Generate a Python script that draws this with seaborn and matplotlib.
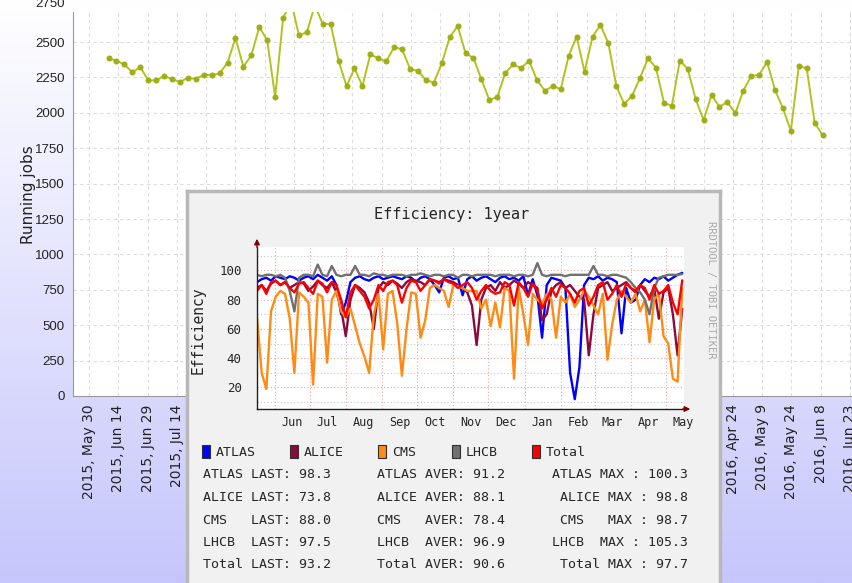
import numpy as np
import pandas as pd
import matplotlib
matplotlib.use('Agg')
from matplotlib import pyplot as plt
from matplotlib.patches import Rectangle, FancyArrowPatch
from matplotlib.colors import LinearSegmentedColormap
from matplotlib.transforms import blended_transform_factory
import matplotlib.dates as mdates
import seaborn as sns

# running jobs, one sample about every 4 days (2015-06-09 .. 2016-06-09)
job_start = '2015-06-09'
job_end = '2016-06-09'
running_jobs = [2385, 2368, 2342, 2286, 2323, 2229, 2229, 2260, 2239, 2217,
                2248, 2239, 2269, 2265, 2279, 2354, 2528, 2326, 2406, 2606,
                2512, 2112, 2667, 2790, 2547, 2570, 2760, 2627, 2627, 2366,
                2189, 2314, 2189, 2413, 2385, 2364, 2463, 2449, 2311, 2295,
                2232, 2213, 2349, 2533, 2613, 2420, 2387, 2236, 2090, 2112,
                2279, 2342, 2316, 2368, 2232, 2156, 2189, 2168, 2403, 2538,
                2288, 2538, 2620, 2491, 2189, 2062, 2121, 2248, 2385, 2318,
                2071, 2048, 2368, 2311, 2095, 1949, 2126, 2043, 2076, 1996,
                2156, 2260, 2267, 2361, 2161, 2032, 1874, 2330, 2314, 1930,
                1843]
date_ticks_start = '2015-05-30'
date_ticks_end = '2016-06-23'
job_ticks = list(range(0, 2751, 250))

# efficiency inset, one sample every 4 days from 2015-05-17
eff_start = '2015-05-17'
experiments = ['ATLAS', 'ALICE', 'CMS', 'LHCB', 'Total']
atlas = [92, 94, 95, 93, 96, 95, 94, 96, 95, 93,
         95, 96, 94, 97, 95, 93, 96, 90, 70, 78,
         92, 95, 96, 94, 93, 95, 96, 94, 95, 96,
         95, 94, 96, 95, 92, 95, 96, 94, 90, 85,
         95, 96, 94, 95, 83, 94, 96, 93, 95, 96,
         94, 92, 95, 96, 94, 95, 93, 96, 83, 94,
         83, 54, 90, 95, 94, 93, 88, 30, 12, 34,
         90, 95, 94, 96, 93, 95, 94, 92, 57, 88,
         78, 80, 90, 94, 92, 95, 94, 96, 93, 95,
         97, 98.3]
alice = [88, 90, 86, 91, 93, 90, 92, 88, 90, 92,
         91, 86, 89, 93, 90, 88, 92, 85, 74, 55,
         80, 90, 88, 85, 78, 60, 88, 92, 90, 93,
         91, 88, 92, 94, 93, 92, 90, 94, 93, 92,
         94, 93, 92, 90, 88, 85, 76, 49, 80, 88,
         90, 86, 92, 88, 90, 93, 91, 88, 92, 90,
         88, 66, 70, 86, 90, 92, 88, 90, 86, 82,
         80, 42, 70, 88, 90, 92, 86, 88, 90, 92,
         88, 85, 90, 86, 82, 88, 67, 85, 88, 70,
         42, 73.8]
cms = [68, 30, 19, 72, 82, 86, 84, 67, 30, 85,
       82, 78, 22, 84, 82, 37, 80, 86, 72, 68,
       74, 62, 50, 41, 30, 70, 84, 46, 84, 86,
       64, 28, 60, 85, 84, 54, 66, 88, 90, 88,
       86, 75, 90, 89, 88, 86, 86, 86, 74, 80,
       62, 78, 61, 88, 86, 26, 88, 70, 49, 84,
       80, 77, 84, 80, 54, 82, 78, 84, 75, 80,
       86, 82, 76, 70, 84, 39, 63, 80, 86, 82,
       78, 84, 72, 80, 51, 80, 84, 55, 50, 26,
       24, 88]
lhcb = [97, 96, 97, 97, 96, 97, 95, 86, 72, 95,
        97, 97, 96, 104, 97, 96, 103, 97, 96, 97,
        97, 103, 97, 97, 96, 98, 97, 97, 96, 97,
        97, 97, 96, 97, 97, 98, 97, 96, 97, 97,
        96, 97, 97, 95, 97, 97, 96, 97, 97, 97,
        97, 96, 97, 97, 97, 96, 97, 97, 96, 97,
        105, 97, 96, 97, 97, 97, 96, 97, 97, 97,
        97, 97, 103, 97, 97, 96, 97, 97, 96, 95,
        92, 88, 85, 80, 70, 88, 95, 96, 97, 97,
        97, 97.5]
total = [86, 90, 84, 92, 93, 90, 92, 88, 85, 91,
         92, 88, 84, 93, 91, 85, 92, 90, 80, 68,
         85, 90, 86, 82, 74, 80, 90, 86, 92, 93,
         90, 78, 88, 93, 92, 86, 90, 94, 93, 91,
         94, 92, 91, 88, 90, 92, 88, 80, 86, 90,
         86, 84, 85, 92, 90, 76, 92, 88, 82, 91,
         86, 74, 80, 88, 82, 90, 88, 84, 78, 86,
         88, 76, 82, 90, 92, 80, 84, 90, 82, 91,
         88, 86, 90, 88, 80, 90, 84, 86, 90, 78,
         70, 93.2]
exp_colors = ['#0000ff', '#8b0a3c', '#ff8a14', '#707070', '#ff0000']
month_names = ['Jun', 'Jul', 'Aug', 'Sep', 'Oct', 'Nov', 'Dec',
               'Jan', 'Feb', 'Mar', 'Apr', 'May']

stats_last = ['ATLAS LAST: 98.3', 'ALICE LAST: 73.8', 'CMS   LAST: 88.0',
              'LHCB  LAST: 97.5', 'Total LAST: 93.2']
stats_aver = ['ATLAS AVER: 91.2', 'ALICE AVER: 88.1', 'CMS   AVER: 78.4',
              'LHCB  AVER: 96.9', 'Total AVER: 90.6']
stats_max = ['ATLAS MAX : 100.3', 'ALICE MAX : 98.8', 'CMS   MAX : 98.7',
             'LHCB  MAX : 105.3', 'Total MAX : 97.7']

sns.set_style('white')
plt.rcParams['font.family'] = ['DejaVu Sans']
mono = 'DejaVu Sans Mono'
tickfont = 'Liberation Sans'

W, H = 853, 583
fig = plt.figure(figsize=(W / 100, H / 100), dpi=100)


def fx(px):
    return px / W


def fy(py):
    return 1 - py / H


# page background gradient
bg = fig.add_axes([0, 0, 1, 1], zorder=-10)
grad = np.linspace(0, 1, 256).reshape(-1, 1)
bg.imshow(grad, aspect='auto', extent=[0, 1, 0, 1], origin='upper',
          cmap=LinearSegmentedColormap.from_list('bg', ['#ffffff', '#c6c6fc']))
bg.axis('off')

# ---- running jobs chart
ax = fig.add_axes([fx(73), fy(396), fx(853) - fx(73), fy(12) - fy(396)])
ax.set_facecolor('white')
job_dates = pd.date_range(job_start, job_end, periods=len(running_jobs))
sns.lineplot(x=job_dates, y=running_jobs, ax=ax, color='#b3c21f', lw=1.4,
             marker='o', ms=3.6, mec='#9fae16', mfc='#9fae16')

# box of the efficiency graph, in page pixels
box_left, box_right = 187, 720
ticks = pd.date_range(date_ticks_start, date_ticks_end, freq='15D')
ax.set_xticks(mdates.date2num(ticks))
ax.set_xlim(pd.Timestamp('2015-05-21 19:00'), pd.Timestamp('2016-06-24 14:00'))
fig.canvas.draw()
labels = []
for t in ticks:
    px = ax.transData.transform((mdates.date2num(t), 0))[0]
    # labels that sit under the efficiency box are hidden in the page
    labels.append('' if box_left < px < box_right else f'{t.year}, {t:%b} {t.day}')
ax.set_xticklabels(labels, rotation=90, fontsize=10, color='#222222')

ax.set_yticks(job_ticks)
ax.set_yticklabels([str(v) for v in job_ticks], family=tickfont,
                   fontsize=9.5, color='#222222')
ax.set_ylim(0, 2712)
# top label sits above the plot and is cut by the page edge
ax.text(-0.011, 2770, '2750', transform=blended_transform_factory(ax.transAxes, ax.transData),
        ha='right', va='center', family=tickfont, fontsize=9.5,
        color='#222222', clip_on=False)
ax.grid(True, color='#dcdcdc', ls=(0, (3, 3)), lw=0.8)
for s in ['top', 'right']:
    ax.spines[s].set_visible(False)
for s in ['left', 'bottom']:
    ax.spines[s].set_color('#999999')
ax.tick_params(axis='both', length=4, color='#999999', pad=2)
ax.set_xlabel('')
fig.text(fx(28), fy(195), 'Running jobs', rotation=90, ha='center',
         va='center', fontsize=11, color='#222222')

# ---- efficiency inset (rrdtool style)
box = fig.add_axes([fx(box_left), fy(600), fx(box_right) - fx(box_left),
                    fy(191) - fy(600)], zorder=5)
box.set_facecolor('#f1f1f1')
box.set_xticks([])
box.set_yticks([])
for s in box.spines.values():
    s.set_color('#b8b8b8')
    s.set_linewidth(2.5)

ax_in = fig.add_axes([fx(257), fy(409), fx(684) - fx(257), fy(247) - fy(409)],
                     zorder=6)
ax_in.set_facecolor('white')
eff_dates = pd.date_range(eff_start, periods=len(atlas), freq='4D')
eff = pd.DataFrame({
    'date': np.tile(eff_dates, len(experiments)),
    'exp': np.repeat(experiments, len(atlas)),
    'value': np.concatenate([atlas, alice, cms, lhcb, total]),
})
sns.lineplot(data=eff, x='date', y='value', hue='exp', hue_order=experiments,
             palette=exp_colors, ax=ax_in, lw=1.7, legend=False)

month_starts = pd.date_range('2015-06-01', '2016-05-01', freq='MS')
mid_months = month_starts + pd.Timedelta(days=15)
ax_in.set_xticks(mdates.date2num(month_starts))
ax_in.set_xticks(mdates.date2num(mid_months), minor=True)
ax_in.set_xticklabels(month_names, minor=True, family=mono, fontsize=8.5)
ax_in.tick_params(axis='x', which='major', labelbottom=False)
ax_in.set_yticks([20, 40, 60, 80, 100])
ax_in.set_yticklabels(['20', '40', '60', '80', '100'], family=mono, fontsize=9)
ax_in.set_yticks(range(10, 111, 10), minor=True)
ax_in.set_xlim(pd.Timestamp('2015-05-17'), pd.Timestamp('2016-05-16 12:00'))
ax_in.set_ylim(5.3, 116)
ax_in.tick_params(axis='both', which='both', length=0)
ax_in.tick_params(axis='y', pad=11)
ax_in.tick_params(axis='x', which='minor', pad=5)
ax_in.grid(True, which='major', color='#e8a4a4', ls=(0, (1, 2)), lw=0.8)
ax_in.grid(True, which='minor', axis='y', color='#c8c8c8', ls=(0, (1, 2)), lw=0.8)
ax_in.set_xlabel('')
ax_in.set_ylabel('')
for s in ['top', 'right']:
    ax_in.spines[s].set_visible(False)
for s in ['left', 'bottom']:
    ax_in.spines[s].set_color('#202020')
    ax_in.spines[s].set_linewidth(1)

fig.add_artist(FancyArrowPatch((fx(257), fy(250)), (fx(257), fy(236)),
                               transform=fig.transFigure, arrowstyle='-|>',
                               mutation_scale=8, color='#7f0000', lw=1, zorder=8))
fig.add_artist(FancyArrowPatch((fx(680), fy(409)), (fx(693), fy(409)),
                               transform=fig.transFigure, arrowstyle='-|>',
                               mutation_scale=8, color='#7f0000', lw=1, zorder=8))

fig.text(fx(452), fy(215), 'Efficiency: 1year', family=mono, fontsize=11,
         ha='center', va='center', zorder=8)
fig.text(fx(198), fy(330), 'Efficiency', family=mono, fontsize=10.5,
         rotation=90, ha='center', va='center', zorder=8)
fig.text(fx(711), fy(290), 'RRDTOOL / TOBI OETIKER', family=mono, fontsize=7.5,
         rotation=270, ha='center', va='center', color='#aaaaaa', zorder=8)

# legend row
legend_x = [202, 290, 378, 452, 532]
for sx, name, col in zip(legend_x, experiments, exp_colors):
    fig.add_artist(Rectangle((fx(sx), fy(458)), 8 / W, 13 / H,
                             transform=fig.transFigure, facecolor=col,
                             edgecolor='#303030', lw=0.8, zorder=8))
    fig.text(fx(sx + 14), fy(452), name, family=mono, fontsize=9.5,
             va='center', ha='left', zorder=8)

row_y = [475, 497.5, 520, 542.5, 565]
for ry, a, b, c in zip(row_y, stats_last, stats_aver, stats_max):
    fig.text(fx(203), fy(ry), a, family=mono, fontsize=9.5, va='center',
             ha='left', zorder=8)
    fig.text(fx(505), fy(ry), b, family=mono, fontsize=9.5, va='center',
             ha='right', zorder=8)
    fig.text(fx(688), fy(ry), c, family=mono, fontsize=9.5, va='center',
             ha='right', zorder=8)

fig.savefig('out.png', dpi=100)
